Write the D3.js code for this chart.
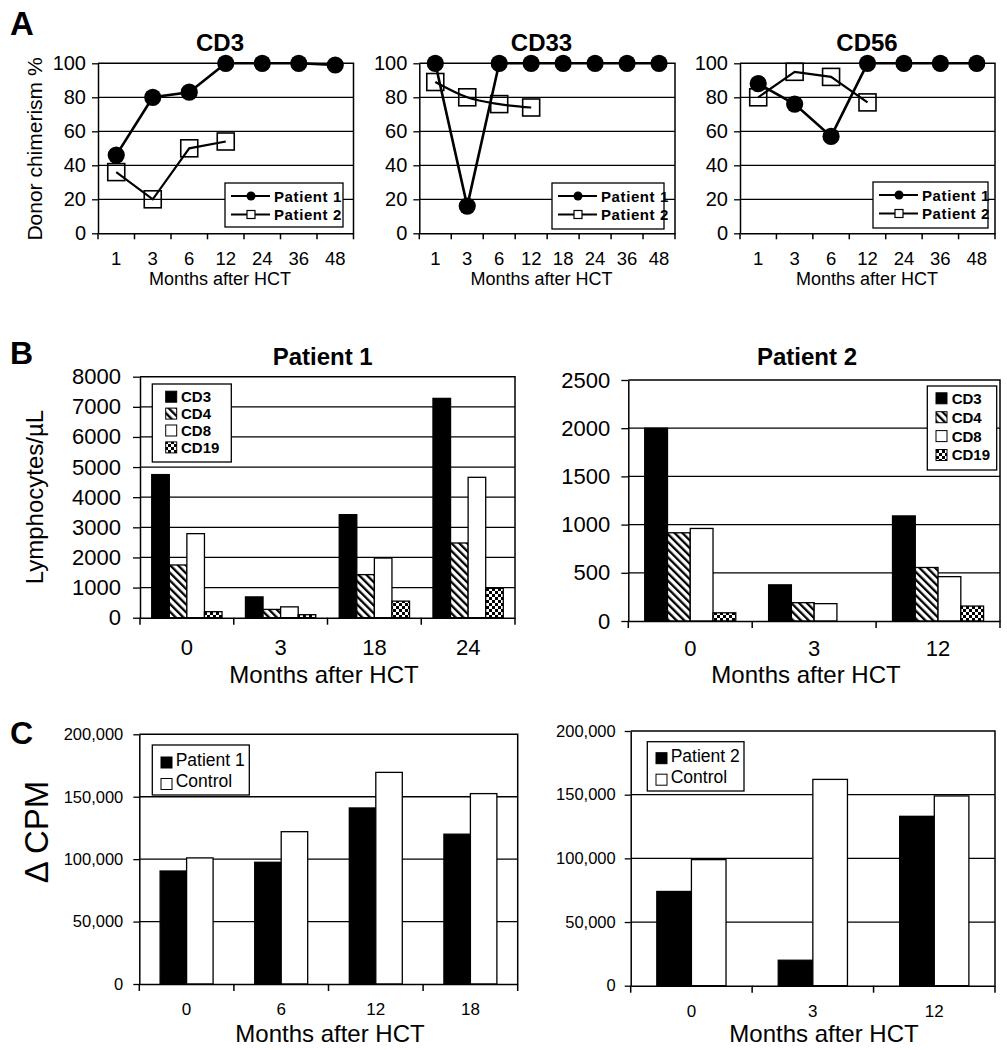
<!DOCTYPE html>
<html><head><meta charset="utf-8">
<script src="https://cdn.jsdelivr.net/npm/d3@7"></script>
<style>
body{margin:0;background:#fff;}
svg{display:block;font-family:"Liberation Sans", Arial, sans-serif;}
</style></head><body>
<svg id="fig" width="1007" height="1050"></svg>
<script>
// ---------------- Data ----------------
// Panel A: donor chimerism (%)
const monthsCD3  = ["1","3","6","12","24","36","48"];
const monthsCD33 = ["1","3","6","12","18","24","36","48"];
const monthsCD56 = ["1","3","6","12","24","36","48"];
const cd3Patient1  = [46, 80, 83, 100, 100, 100, 99];
const cd3Patient2  = [36, 20, 50, 54];
const cd33Patient1 = [100, 16, 100, 100, 100, 100, 100, 100];
const cd33Patient2 = [89, 80, 76, 74];
const cd56Patient1 = [88, 76, 57, 100, 100, 100, 100];
const cd56Patient2 = [80, 95, 92, 77];
const chimerismTicks = [0, 20, 40, 60, 80, 100];
const lineSeriesNames = ["Patient 1", "Patient 2"];

// Panel B: lymphocyte subsets (cells/µL)
const subsets = ["CD3", "CD4", "CD8", "CD19"];
const monthsB1 = ["0", "3", "18", "24"];
const p1CD3  = [4750, 690, 3420, 7280];
const p1CD4  = [1750, 275, 1430, 2480];
const p1CD8  = [2790, 360, 1980, 4660];
const p1CD19 = [200, 100, 550, 975];
const ticksB1 = [0, 1000, 2000, 3000, 4000, 5000, 6000, 7000, 8000];
const monthsB2 = ["0", "3", "12"];
const p2CD3  = [2000, 375, 1090];
const p2CD4  = [915, 190, 555];
const p2CD8  = [960, 180, 460];
const p2CD19 = [85, 0, 155];
const ticksB2 = [0, 500, 1000, 1500, 2000, 2500];

// Panel C: proliferation (delta CPM)
const monthsC1 = ["0", "6", "12", "18"];
const c1Patient = [90500, 97500, 141000, 120000];
const c1Control = [101000, 122000, 169500, 152500];
const monthsC2 = ["0", "3", "12"];
const c2Patient = [74000, 20000, 133000];
const c2Control = [99000, 162000, 149000];
const ticksC = [0, 50000, 100000, 150000, 200000];

// ---------------- Drawing ----------------
const svg = d3.select("#fig");
const defs = svg.append("defs");
const hatch = defs.append("pattern").attr("id","hatch").attr("patternUnits","userSpaceOnUse")
  .attr("width",5.5).attr("height",5.5).attr("patternTransform","rotate(-45)");
hatch.append("rect").attr("width",5.5).attr("height",5.5).attr("fill","#fff");
hatch.append("rect").attr("width",2.3).attr("height",5.5).attr("fill","#000");
const checker = defs.append("pattern").attr("id","checker").attr("patternUnits","userSpaceOnUse")
  .attr("width",6).attr("height",6);
checker.append("rect").attr("width",6).attr("height",6).attr("fill","#fff");
checker.append("rect").attr("width",3).attr("height",3).attr("fill","#000");
checker.append("rect").attr("x",3).attr("y",3).attr("width",3).attr("height",3).attr("fill","#000");

const fmtComma = d3.format(",");

function text(x, y, s, size, opts = {}) {
  const t = svg.append("text").attr("x", x).attr("y", y).text(s)
    .attr("font-size", size).attr("text-anchor", opts.anchor || "middle")
    .attr("font-weight", opts.bold ? "bold" : "normal").attr("fill", "#000");
  if (opts.rotate) t.attr("transform", `rotate(-90,${x},${y})`);
  return t;
}

function styleAxis(ax, fs) {
  ax.select(".domain").attr("stroke", "#000").attr("stroke-width", 1.5);
  ax.selectAll(".tick line").attr("stroke", "#000").attr("stroke-width", 1.3);
  ax.selectAll(".tick text").attr("font-size", fs).attr("fill", "#000")
    .attr("font-family", "Liberation Sans, Arial, sans-serif");
}

function frame(g, o, y, ticks, tickFmt, ySize, yPad, yFs, x, xFs, xBaseline, xTick) {
  g.append("path").attr("d", `M${o.left},${o.top}H${o.right}V${o.bottom}`)
    .attr("fill", "none").attr("stroke", "#000").attr("stroke-width", 1.5);
  const ya = g.append("g").attr("transform", `translate(${o.left},0)`)
    .call(d3.axisLeft(y).tickValues(ticks).tickFormat(tickFmt).tickSize(ySize).tickPadding(yPad).tickSizeOuter(0));
  styleAxis(ya, yFs);
  const pad = xBaseline - o.bottom - 0.71 * xFs;
  const xa = g.append("g").attr("transform", `translate(0,${o.bottom})`)
    .call(d3.axisBottom(x).tickSize(0).tickPadding(pad).tickSizeOuter(0));
  styleAxis(xa, xFs);
  const step = x.step();
  const bounds = d3.range(x.domain().length + 1).map(i => o.left + i * step);
  g.selectAll(null).data(bounds).join("line")
    .attr("x1", d => d).attr("x2", d => d).attr("y1", o.bottom).attr("y2", o.bottom + xTick)
    .attr("stroke", "#000").attr("stroke-width", 1.5);
}

function grid(g, o, y, ticks, max) {
  g.selectAll(null).data(ticks.filter(t => t > 0 && t < max)).join("line")
    .attr("x1", o.left).attr("x2", o.right).attr("y1", d => y(d)).attr("y2", d => y(d))
    .attr("stroke", "#000").attr("stroke-width", 1.3);
}

function lineChart(o) {
  const g = svg.append("g");
  const x = d3.scaleBand().domain(o.cats).range([o.left, o.right]).padding(0);
  const y = d3.scaleLinear().domain([0, 100]).range([o.bottom, o.top]);
  grid(g, o, y, chimerismTicks, 100);
  const cx = i => x(o.cats[i]) + x.bandwidth() / 2;
  const l1 = d3.line().x((d, i) => cx(i)).y(d => y(d));
  const l2 = d3.line().x((d, i) => cx(i)).y(d => y(d)).curve(o.curve2 || d3.curveLinear);
  g.append("path").attr("d", l2(o.p2)).attr("fill", "none").attr("stroke", "#000").attr("stroke-width", 2.2);
  g.append("path").attr("d", l1(o.p1)).attr("fill", "none").attr("stroke", "#000").attr("stroke-width", 2.6);
  g.selectAll(null).data(o.p2).join("rect")
    .attr("x", (d, i) => cx(i) - 8.5).attr("y", d => y(d) - 8.5).attr("width", 17).attr("height", 17)
    .attr("fill", "none").attr("stroke", "#000").attr("stroke-width", 1.6);
  g.selectAll(null).data(o.p1).join("circle")
    .attr("cx", (d, i) => cx(i)).attr("cy", d => y(d)).attr("r", 8.6).attr("fill", "#000");
  frame(g, o, y, chimerismTicks, d => d, 6, 6, 20, x, 18.5, 265, 6);
  text(o.titleX, 51, o.title, 24, { bold: true });
  text(o.titleX, 285, "Months after HCT", 18);
  const L = o.legend;
  g.append("rect").attr("x", L.x).attr("y", L.y).attr("width", L.w).attr("height", L.h)
    .attr("fill", "#fff").attr("stroke", "#000").attr("stroke-width", 1.3);
  lineSeriesNames.forEach((name, i) => {
    const ry = L.y + 13 + i * 18.5;
    g.append("line").attr("x1", L.x + 6).attr("x2", L.x + 45).attr("y1", ry).attr("y2", ry)
      .attr("stroke", "#000").attr("stroke-width", 2.2);
    if (i === 0) g.append("circle").attr("cx", L.x + 26).attr("cy", ry).attr("r", 4.5).attr("fill", "#000");
    else g.append("rect").attr("x", L.x + 22).attr("y", ry - 4).attr("width", 8).attr("height", 8)
      .attr("fill", "#fff").attr("stroke", "#000").attr("stroke-width", 1.2);
    g.append("text").attr("x", L.x + 49).attr("y", ry + 5.5).text(name).attr("font-size", 15)
      .attr("font-weight", "bold").attr("letter-spacing", 0.6);
  });
}

function barChart(o) {
  const g = svg.append("g");
  const x0 = d3.scaleBand().domain(o.cats).range([o.left, o.right]).paddingInner(o.pad).paddingOuter(o.pad / 2);
  const x1 = d3.scaleBand().domain(o.keys).range([0, x0.bandwidth()]);
  const y = d3.scaleLinear().domain([0, o.max]).range([o.bottom, o.top]);
  grid(g, o, y, o.ticks, o.max);
  const data = [];
  o.cats.forEach((c, i) => o.keys.forEach((k, j) => data.push({ c, k, v: o.values[j][i], fill: o.fills[j] })));
  g.selectAll(null).data(data.filter(d => d.v > 0)).join("rect")
    .attr("x", d => x0(d.c) + x1(d.k)).attr("width", x1.bandwidth())
    .attr("y", d => y(d.v)).attr("height", d => y(0) - y(d.v))
    .attr("fill", d => d.fill).attr("stroke", "#000").attr("stroke-width", 1.3);
  frame(g, o, y, o.ticks, o.tickFmt, o.ySize, o.yPad, o.yFs, x0, o.xFs, o.xBaseline, 7);
  const L = o.legend;
  g.append("rect").attr("x", L.x).attr("y", L.y).attr("width", L.w).attr("height", L.h)
    .attr("fill", "#fff").attr("stroke", "#000").attr("stroke-width", 1.3);
  L.names.forEach((name, i) => {
    const ry = L.y + L.first + i * L.step;
    g.append("rect").attr("x", L.x + L.sx).attr("y", ry - L.sw / 2 + L.sdy).attr("width", L.sw).attr("height", L.sw)
      .attr("fill", o.fills[i]).attr("stroke", "#000").attr("stroke-width", 1);
    g.append("text").attr("x", L.x + L.tx).attr("y", ry + L.fs * 0.36).text(name)
      .attr("font-size", L.fs).attr("font-weight", L.bold ? "bold" : "normal");
  });
}

// ---- Panel A ----
text(10, 35, "A", 33, { bold: true, anchor: "start" });
text(41.5, 149, "Donor chimerism %", 21, { rotate: true });
lineChart({ cats: monthsCD3, p1: cd3Patient1, p2: cd3Patient2, title: "CD3", titleX: 220,
  left: 98, right: 353.5, top: 63.3, bottom: 233.3, legend: { x: 225, y: 183, w: 118, h: 44 } });
lineChart({ cats: monthsCD33, p1: cd33Patient1, p2: cd33Patient2, title: "CD33", titleX: 541.5,
  left: 419.3, right: 675, top: 63.3, bottom: 233.3, curve2: d3.curveMonotoneX,
  legend: { x: 552, y: 183, w: 112, h: 46 } });
lineChart({ cats: monthsCD56, p1: cd56Patient1, p2: cd56Patient2, title: "CD56", titleX: 867,
  left: 740, right: 995, top: 63.3, bottom: 233.3, legend: { x: 873, y: 182, w: 115, h: 46 } });

// ---- Panel B ----
text(10, 364, "B", 32, { bold: true, anchor: "start" });
text(43, 497, "Lymphocytes/µL", 24, { rotate: true });
const fillsB = ["#000", "url(#hatch)", "#fff", "url(#checker)"];
barChart({ cats: monthsB1, keys: subsets, values: [p1CD3, p1CD4, p1CD8, p1CD19], fills: fillsB,
  max: 8000, ticks: ticksB1, tickFmt: d => d, left: 140, right: 515, top: 376.7, bottom: 617.7,
  pad: 0.25, ySize: 7, yPad: 12, yFs: 22, xFs: 22, xBaseline: 655,
  legend: { x: 152.3, y: 384, w: 79, h: 78, names: subsets, first: 12.7, step: 16.9, sx: 13.4, sw: 11, sdy: 0, tx: 28.7, fs: 15, bold: true } });
text(322.7, 365, "Patient 1", 24, { bold: true });
text(324, 683, "Months after HCT", 24);

barChart({ cats: monthsB2, keys: subsets, values: [p2CD3, p2CD4, p2CD8, p2CD19], fills: fillsB,
  max: 2500, ticks: ticksB2, tickFmt: d => d, left: 628.3, right: 1000, top: 380, bottom: 621,
  pad: 0.265, ySize: 7, yPad: 11, yFs: 22, xFs: 22, xBaseline: 656,
  legend: { x: 927.3, y: 386, w: 69.4, h: 84, names: subsets, first: 12.3, step: 18.9, sx: 8.7, sw: 11, sdy: 0, tx: 24.4, fs: 15, bold: true } });
text(807, 365, "Patient 2", 24, { bold: true });
text(806, 683, "Months after HCT", 24);

// ---- Panel C ----
text(10, 744, "C", 32, { bold: true, anchor: "start" });
text(48, 832, "\u0394 CPM", 33, { rotate: true });
const fillsC = ["#000", "#fff"];
barChart({ cats: monthsC1, keys: ["Patient 1", "Control"], values: [c1Patient, c1Control], fills: fillsC,
  max: 200000, ticks: ticksC, tickFmt: fmtComma, left: 139.3, right: 517.7, top: 734.3, bottom: 984,
  pad: 0.44, ySize: 6, yPad: 10, yFs: 16.5, xFs: 17, xBaseline: 1015,
  legend: { x: 152.3, y: 745, w: 97, h: 50, names: ["Patient 1", "Control"], first: 14.5, step: 21.5, sx: 8.7, sw: 11, sdy: 3, tx: 23.4, fs: 17.5, bold: false } });
text(330, 1042, "Months after HCT", 24);

barChart({ cats: monthsC2, keys: ["Patient 2", "Control"], values: [c2Patient, c2Control], fills: fillsC,
  max: 200000, ticks: ticksC, tickFmt: fmtComma, left: 630.7, right: 995, top: 731, bottom: 985.7,
  pad: 0.43, ySize: 6, yPad: 9, yFs: 16.5, xFs: 17, xBaseline: 1017,
  legend: { x: 647.3, y: 741.7, w: 96.7, h: 49.3, names: ["Patient 2", "Control"], first: 13.5, step: 21.5, sx: 8.7, sw: 11, sdy: 3, tx: 23.4, fs: 17.5, bold: false } });
text(824, 1042, "Months after HCT", 24);
</script>
</body></html>
